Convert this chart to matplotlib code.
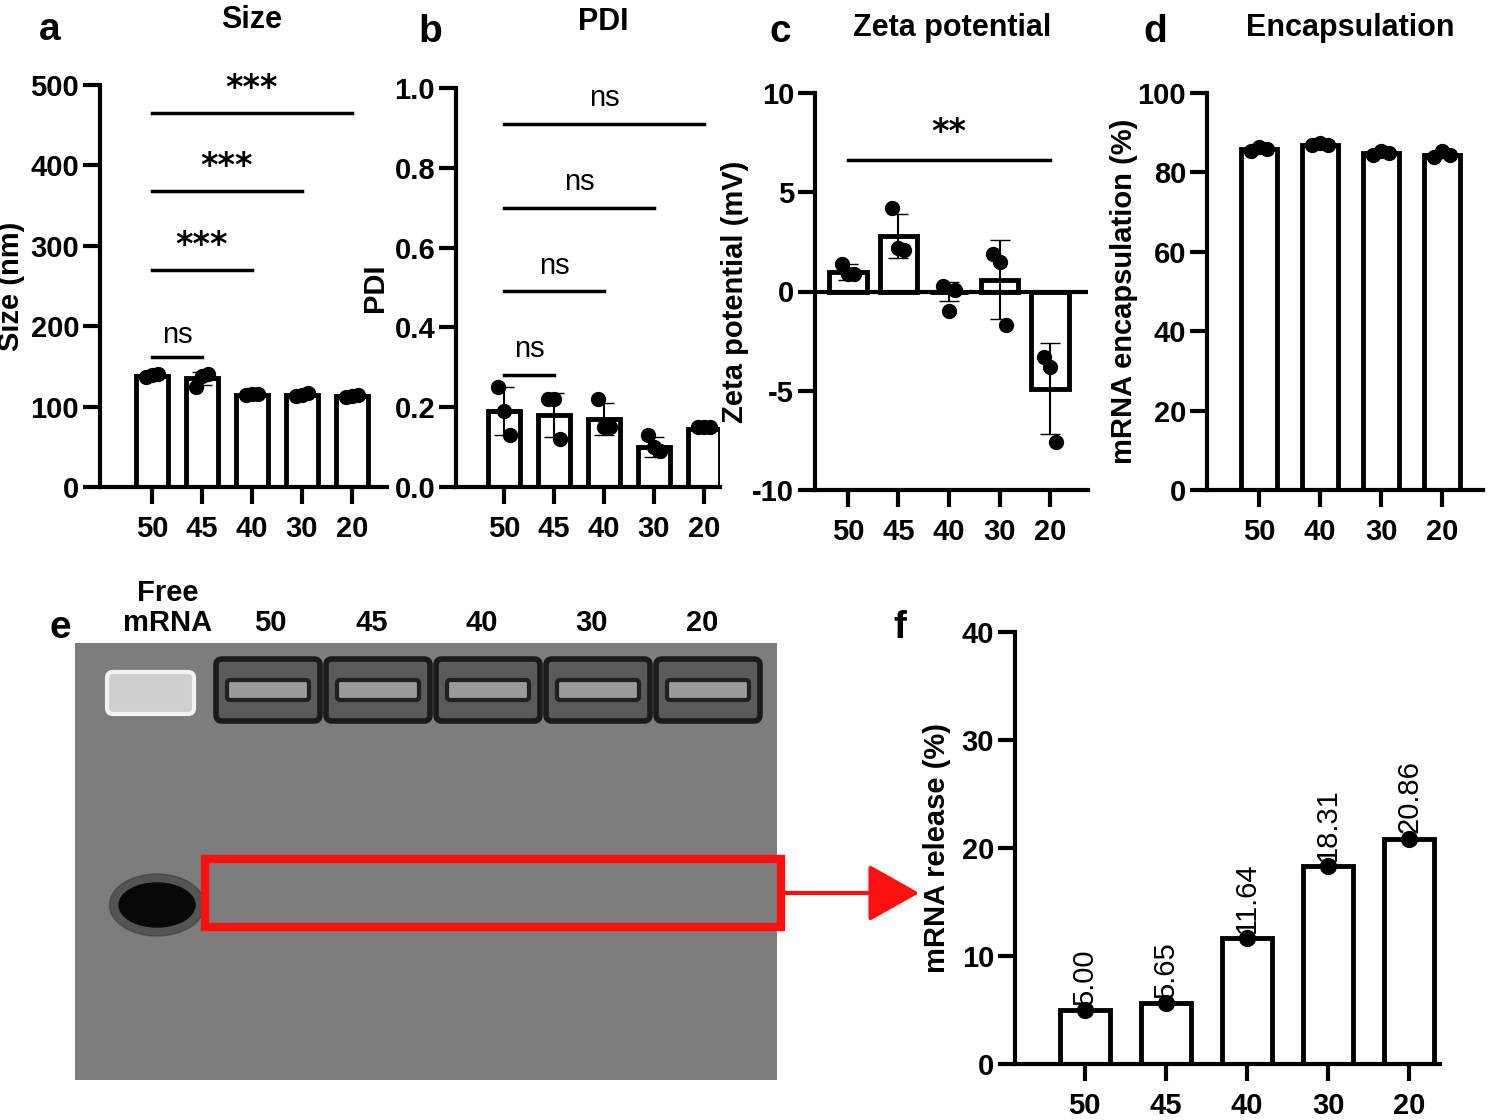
import matplotlib
matplotlib.use("Agg")
import matplotlib.pyplot as plt
from matplotlib.patches import Rectangle, FancyBboxPatch, Ellipse, FancyArrowPatch
import numpy as np

plt.rcParams['font.family'] = ['Liberation Sans', 'DejaVu Sans']
plt.rcParams['font.weight'] = 'bold'
plt.rcParams['axes.unicode_minus'] = False

W, H = 1489, 1120
fig = plt.figure(figsize=(W / 100, H / 100), dpi=100)

def ax_px(x0, y0, x1, y1):
    return fig.add_axes([x0 / W, 1 - y1 / H, (x1 - x0) / W, (y1 - y0) / H])

# ---- data
groups5 = ['50', '45', '40', '30', '20']
groups4 = ['50', '40', '30', '20']

size_mean = [138, 135, 115, 114, 113]
size_sd = [2, 8, 1, 2, 1]
size_pts = [[137, 139, 140], [125, 138, 140], [115, 116, 116], [113, 115, 117], [112, 113, 114]]
size_sig = [(0, 1, 162, 'ns'), (0, 2, 270, '***'), (0, 3, 368, '***'), (0, 4, 465, '***')]

pdi_mean = [0.19, 0.18, 0.17, 0.10, 0.145]
pdi_sd = [0.06, 0.055, 0.04, 0.025, 0.005]
pdi_pts = [[0.25, 0.19, 0.13], [0.22, 0.22, 0.12], [0.22, 0.15, 0.15], [0.13, 0.10, 0.09], [0.15, 0.15, 0.15]]
pdi_sig = [(0, 1, 0.28, 'ns'), (0, 2, 0.49, 'ns'), (0, 3, 0.70, 'ns'), (0, 4, 0.91, 'ns')]

zeta_mean = [1.0, 2.8, 0.0, 0.6, -4.9]
zeta_sd = [0.4, 1.1, 0.5, 2.0, 2.3]
zeta_pts = [[1.4, 0.9, 0.9], [4.2, 2.2, 2.1], [0.3, -1.0, 0.1], [1.9, 1.5, -1.7], [-3.3, -3.8, -7.6]]
zeta_sig = [(0, 4, 6.6, '**')]

enc_mean = [86, 87, 85, 84.5]
enc_sd = [0.6, 0.5, 0.7, 0.9]
enc_pts = [[85.5, 86.5, 86], [87, 87.5, 87], [84.5, 85.5, 85], [83.8, 85.5, 84.5]]

rel_vals = [5.00, 5.65, 11.64, 18.31, 20.86]

TICK = 21

def style(ax, xlim, ylim, yticks, ylabel, cats, labelpad=4):
    ax.set_xlim(*xlim)
    ax.set_ylim(*ylim)
    ax.set_yticks(yticks)
    ax.set_xticks(range(len(cats)))
    ax.set_xticklabels(cats)
    for s in ['top', 'right']:
        ax.spines[s].set_visible(False)
    for s in ['left', 'bottom']:
        ax.spines[s].set_linewidth(3)
    ax.tick_params(width=3, length=12, labelsize=TICK, pad=3)
    ax.tick_params(axis='x', pad=8)
    ax.set_ylabel(ylabel, fontsize=TICK, fontweight='bold', labelpad=labelpad)

def bars(ax, means, sd, pts, width=0.64, offs=(-0.12, 0, 0.12)):
    x = np.arange(len(means))
    ax.bar(x, means, width=width, color='white', edgecolor='black', linewidth=3.5, zorder=2)
    ax.errorbar(x, means, yerr=sd, fmt='none', ecolor='black', elinewidth=1.5, capsize=7, zorder=3)
    for i, p in enumerate(pts):
        ax.scatter(np.array(offs) + i, p, s=100, color='black', zorder=4)

def sig(ax, items, dy):
    for x0, x1, y, t in items:
        ax.plot([x0, x1], [y, y], color='black', lw=2.5, clip_on=False)
        star = '*' in t
        ax.text((x0 + x1) / 2, y + dy, t, ha='center', va='bottom', fontsize=24 if star else TICK,
                fontweight='bold' if star else 'normal', family='DejaVu Sans' if star else None)

# a
ax = ax_px(100, 85, 387, 487)
bars(ax, size_mean, size_sd, size_pts)
sig(ax, size_sig, 10)
style(ax, (-1.04, 4.7), (0, 500), range(0, 501, 100), 'Size (nm)', groups5)

# b
ax = ax_px(456, 88, 720, 487)
bars(ax, pdi_mean, pdi_sd, pdi_pts)
sig(ax, pdi_sig, 0.03)
style(ax, (-0.96, 4.32), (0, 1.0), np.arange(0, 1.01, 0.2), 'PDI', groups5)
ax.set_yticklabels(['0.0', '0.2', '0.4', '0.6', '0.8', '1.0'])

# c
ax = ax_px(815, 93, 1088, 490)
bars(ax, zeta_mean, zeta_sd, zeta_pts, width=0.74)
ax.axhline(0, color='black', lw=3, zorder=5)
sig(ax, zeta_sig, 0.6)
style(ax, (-0.65, 4.75), (-10, 10), [-10, -5, 0, 5, 10], 'Zeta potential (mV)', groups5, labelpad=2)

# d
ax = ax_px(1207, 93, 1483, 490)
bars(ax, enc_mean, enc_sd, enc_pts, width=0.6, offs=(-0.13, 0, 0.13))
style(ax, (-0.85, 3.67), (0, 100), range(0, 101, 20), 'mRNA encapsulation (%)', groups4, labelpad=0)

# f
ax = ax_px(1015, 632, 1440, 1064)
x = np.arange(len(rel_vals))
ax.bar(x, rel_vals, width=0.62, color='white', edgecolor='black', linewidth=3.5, zorder=2)
ax.scatter(x, rel_vals, s=130, color='black', zorder=4)
for i, v in enumerate(rel_vals):
    ax.text(i, v + 0.5, f'{v:.2f}', rotation=90, ha='center', va='bottom', fontsize=TICK,
            fontweight='normal')
style(ax, (-0.86, 4.38), (0, 40), range(0, 41, 10), 'mRNA release (%)', groups5, labelpad=8)

# panel titles
for tx, ty, tt in [(252, 20, 'Size'), (603, 22, 'PDI'), (952, 28, 'Zeta potential'), (1350, 28, 'Encapsulation')]:
    fig.text(tx / W, 1 - ty / H, tt, ha='center', va='center', fontsize=22, fontweight='bold')

# e: gel
ge = ax_px(75, 643, 777, 1080)
ge.set_xlim(0, 702)
ge.set_ylim(437, 0)
ge.axis('off')
ge.add_patch(Rectangle((0, 0), 702, 437, color='#7d7d7d'))
ge.add_patch(FancyBboxPatch((38, 35), 75, 30, boxstyle='round,pad=6', fc='#cfcfcf', ec='#f2f2f2', lw=3))
for cx in [193, 303, 413, 523, 633]:
    ge.add_patch(FancyBboxPatch((cx - 46, 22), 92, 50, boxstyle='round,pad=6', fc='#5a5a5a', ec='#1a1a1a', lw=4))
    ge.add_patch(FancyBboxPatch((cx - 38, 40), 76, 14, boxstyle='round,pad=3', fc='#9a9a9a', ec='#202020', lw=3))
ge.add_patch(Ellipse((82, 262), 95, 62, color='#3a3a3a', alpha=0.6))
ge.add_patch(Ellipse((82, 262), 76, 44, color='#080808'))

lane_x = [168, 270, 372, 482, 592, 702]
lane_t = ['Free\nmRNA', '50', '45', '40', '30', '20']
for lx, lt in zip(lane_x, lane_t):
    fig.text(lx / W, 1 - 637 / H, lt, ha='center', va='bottom', fontsize=21, fontweight='bold',
             linespacing=1.1)

fig.add_artist(Rectangle((205 / W, 1 - 927 / H), 576 / W, 68 / H, fill=False, ec='#ff1010', lw=6,
                         transform=fig.transFigure))
fig.add_artist(FancyArrowPatch((783 / W, 1 - 893 / H), (922 / W, 1 - 893 / H),
                               transform=fig.transFigure, color='#ff1010',
                               arrowstyle='-|>,head_length=1.6,head_width=0.9', lw=3,
                               mutation_scale=20))

for lx, ly, lt in [(50, 30, 'a'), (430, 32, 'b'), (780, 32, 'c'), (1155, 32, 'd'),
                   (60, 628, 'e'), (900, 628, 'f')]:
    fig.text(lx / W, 1 - ly / H, lt, ha='center', va='center', fontsize=28, fontweight='bold')

fig.savefig('out.png', dpi=100)
